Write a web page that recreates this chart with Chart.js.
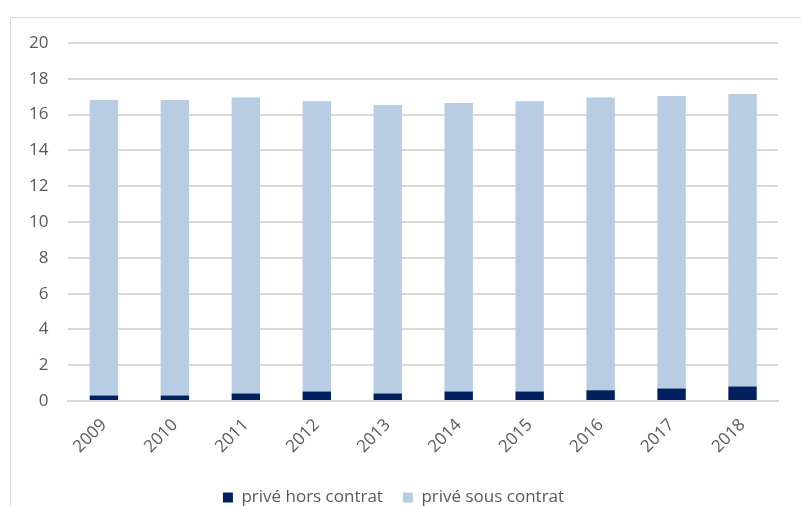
<!DOCTYPE html>
<html>
<head>
<meta charset="utf-8">
<script src="https://cdn.jsdelivr.net/npm/chart.js@4/dist/chart.umd.min.js"></script>
<style>
  html, body { margin: 0; padding: 0; background: #ffffff; }
  #wrap { position: relative; width: 801px; height: 506px; overflow: hidden; }
  #frame { position: absolute; left: 10px; top: 17px; width: 900px; height: 600px;
           border: 1px solid #d9d9d9; box-sizing: border-box; }
  canvas { position: absolute; left: 0; top: 0; }
</style>
</head>
<body>
<div id="wrap">
  <div id="frame"></div>
  <canvas id="chart" width="801" height="506"></canvas>
</div>
<script>
// Years shown on the horizontal axis
const years = ['2009', '2010', '2011', '2012', '2013', '2014', '2015', '2016', '2017', '2018'];

// Share (%) for each private-school category, stacked per year
const horsContrat  = [0.31, 0.31, 0.42, 0.54, 0.42, 0.54, 0.54, 0.61, 0.70, 0.82];
const sousContrat  = [16.51, 16.51, 16.53, 16.20, 16.12, 16.11, 16.20, 16.34, 16.34, 16.33];

// Vertical axis ticks
const yTicks = [0, 2, 4, 6, 8, 10, 12, 14, 16, 18, 20];

const textColor = '#595959';
const gridColor = '#d9d9d9';
const fontFamily = '"Open Sans", Lato, sans-serif';

new Chart(document.getElementById('chart'), {
  type: 'bar',
  data: {
    labels: years,
    datasets: [
      { label: 'privé hors contrat', data: horsContrat, backgroundColor: '#002060',
        categoryPercentage: 0.4, barPercentage: 1.0 },
      { label: 'privé sous contrat', data: sousContrat, backgroundColor: '#b8cce4',
        categoryPercentage: 0.4, barPercentage: 1.0 }
    ]
  },
  options: {
    responsive: false,
    animation: false,
    layout: { padding: { top: 43, left: 9, right: 23, bottom: -10 } },
    plugins: {
      title: { display: false },
      tooltip: { enabled: false },
      legend: {
        position: 'bottom',
        labels: {
          boxWidth: 10, boxHeight: 10, padding: 20,
          color: textColor,
          font: { family: fontFamily, size: 17 }
        }
      }
    },
    scales: {
      x: {
        stacked: true,
        grid: { display: false },
        border: { color: gridColor, width: 2 },
        afterFit: (axis) => { axis.height += 6; },
        ticks: {
          color: textColor, maxRotation: 45, minRotation: 45, padding: 6,
          font: { family: fontFamily, size: 17 }
        }
      },
      y: {
        stacked: true,
        min: yTicks[0],
        max: yTicks[yTicks.length - 1],
        afterBuildTicks: (axis) => { axis.ticks = yTicks.map(v => ({ value: v })); },
        grid: { color: gridColor, lineWidth: 2, drawTicks: false },
        border: { display: false },
        ticks: {
          color: textColor, padding: 20,
          font: { family: fontFamily, size: 17 }
        }
      }
    }
  }
});
</script>
</body>
</html>
